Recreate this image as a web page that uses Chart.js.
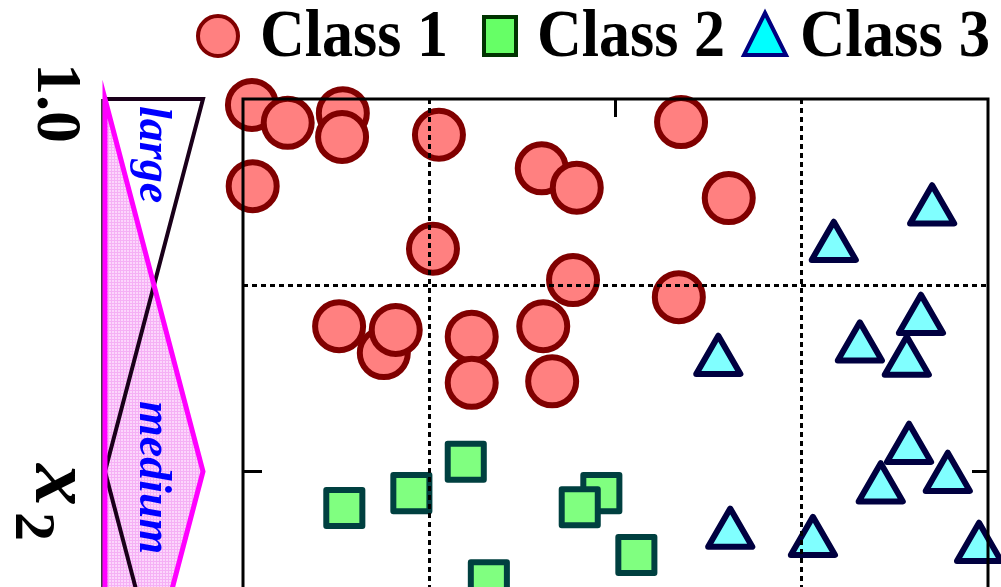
<!DOCTYPE html>
<html>
<head>
<meta charset="utf-8">
<script src="https://cdn.jsdelivr.net/npm/chart.js@4.4.1/dist/chart.umd.min.js"></script>
<style>
  html, body { margin: 0; padding: 0; background: #fff; overflow: hidden; }
  #wrap { width: 1001px; height: 870px; }
</style>
</head>
<body>
<div id="wrap"><canvas id="myChart" width="1001" height="870"></canvas></div>
<script>
(() => {
  "use strict";

  // class 1 - circles
  const class1X = [0.012, 0.060, 0.134, 0.133, 0.013, 0.263, 0.401, 0.448, 0.255, 0.443,
                   0.588, 0.652, 0.585, 0.129, 0.189, 0.205, 0.307, 0.307, 0.403, 0.415];
  const class1Y = [0.992, 0.968, 0.981, 0.949, 0.883, 0.952, 0.907, 0.881, 0.799, 0.757,
                   0.969, 0.867, 0.734, 0.695, 0.659, 0.690, 0.681, 0.619, 0.695, 0.621];
  // class 2 - squares
  const class2X = [0.299, 0.226, 0.136, 0.481, 0.452, 0.330, 0.528];
  const class2Y = [0.513, 0.471, 0.451, 0.471, 0.452, 0.354, 0.388];
  // class 3 - triangles
  const class3X = [0.793, 0.925, 0.910, 0.828, 0.891, 0.638, 0.894, 0.856, 0.946, 0.654, 0.765, 0.988];
  const class3Y = [0.801, 0.850, 0.703, 0.666, 0.647, 0.648, 0.530, 0.477, 0.491, 0.416, 0.405, 0.397];

  const classNames = ["Class 1", "Class 2", "Class 3"];
  const gridValues = [0.25, 0.75];
  const midTicks = [0.5];

  // membership functions along x2: [x2 value, degree]
  const mfLarge = [[1, 0], [1, 1], [0.5, 0]];
  const mfMedium = [[1, 0], [0.5, 1], [0, 0]];
  const mfSmall = [[0.5, 0], [0, 1]];
  const mfNames = ["large", "medium"];
  const degreeLabel = "1.0";

  const serif = '"Liberation Serif", "Times New Roman", serif';

  const toPoints = (xs, ys) => xs.map((x, i) => ({ x: x, y: ys[i] }));

  // pink mesh used in the "medium" area
  const pat = document.createElement("canvas");
  pat.width = 3; pat.height = 3;
  const pc = pat.getContext("2d");
  pc.fillStyle = "#fcd6fc";
  pc.fillRect(0, 0, 3, 3);
  pc.fillStyle = "#f5b0f5";
  pc.fillRect(0, 0, 3, 1);
  pc.fillRect(0, 0, 1, 3);

  const decorations = {
    id: "decorations",
    beforeDatasetsDraw(chart) {
      const { ctx, scales: { y } } = chart;
      const mx0 = 105, mw = 98;
      const px = (p) => [mx0 + p[1] * mw, y.getPixelForValue(p[0])];
      const path = (pts) => {
        ctx.beginPath();
        pts.forEach((p, i) => {
          const [a, b] = px(p);
          if (i === 0) ctx.moveTo(a, b); else ctx.lineTo(a, b);
        });
      };
      ctx.save();
      // medium area fill
      path(mfMedium); ctx.closePath();
      ctx.fillStyle = ctx.createPattern(pat, "repeat");
      ctx.fill();
      // axis of the membership panel
      ctx.strokeStyle = "#000";
      ctx.lineWidth = 1.5;
      ctx.beginPath();
      ctx.moveTo(102, y.getPixelForValue(1));
      ctx.lineTo(102, y.getPixelForValue(0));
      ctx.stroke();
      // black: large / small
      ctx.strokeStyle = "#1a001a";
      ctx.lineWidth = 4;
      ctx.lineJoin = "miter";
      path(mfLarge); ctx.stroke();
      path(mfSmall); ctx.stroke();
      // magenta: medium
      path(mfMedium); ctx.closePath();
      ctx.strokeStyle = "#ff00ff";
      ctx.lineWidth = 5;
      ctx.stroke();

      // rotated labels
      const rot = (text, x, yy, font, color) => {
        ctx.save();
        ctx.translate(x, yy);
        ctx.rotate(Math.PI / 2);
        ctx.font = font;
        ctx.fillStyle = color;
        ctx.textBaseline = "alphabetic";
        ctx.textAlign = "left";
        ctx.fillText(text, 0, 0);
        ctx.restore();
      };
      rot(mfNames[0], 140, 106, "italic bold 46px " + serif, "#0000ff");
      rot(mfNames[1], 140, 401, "italic bold 46px " + serif, "#0000ff");
      rot(degreeLabel, 38, 63, "bold 64px " + serif, "#000");
      rot("x", 36, 464, "italic bold 84px " + serif, "#000");
      rot("2", 16, 512, "bold 58px " + serif, "#000");
      ctx.restore();
      // softer corners on the markers
      ctx.lineJoin = "round";
    },
    afterDraw(chart) {
      const { ctx, chartArea: a, scales: { x, y } } = chart;
      ctx.save();
      ctx.lineJoin = "miter";
      ctx.strokeStyle = "#000";
      ctx.lineWidth = 3;
      ctx.strokeRect(a.left, a.top, a.right - a.left, a.bottom - a.top);
      ctx.beginPath();
      midTicks.forEach((v) => {
        const xp = x.getPixelForValue(v), yp = y.getPixelForValue(v);
        ctx.moveTo(xp, a.top); ctx.lineTo(xp, a.top + 18);
        ctx.moveTo(xp, a.bottom); ctx.lineTo(xp, a.bottom - 18);
        ctx.moveTo(a.left, yp); ctx.lineTo(a.left + 19, yp);
        ctx.moveTo(a.right, yp); ctx.lineTo(a.right - 16, yp);
      });
      ctx.stroke();

      // legend
      ctx.lineWidth = 4;
      ctx.fillStyle = "#ff8080"; ctx.strokeStyle = "#800000";
      ctx.beginPath(); ctx.arc(218, 36, 20, 0, Math.PI * 2); ctx.fill(); ctx.stroke();
      ctx.fillStyle = "#66ff66"; ctx.strokeStyle = "#003300";
      ctx.beginPath(); ctx.rect(484, 17, 32, 38); ctx.fill(); ctx.stroke();
      ctx.fillStyle = "#00ffff"; ctx.strokeStyle = "#000080";
      ctx.beginPath(); ctx.moveTo(765, 13); ctx.lineTo(786, 55); ctx.lineTo(744, 55); ctx.closePath();
      ctx.fill(); ctx.stroke();
      ctx.fillStyle = "#000";
      ctx.font = "bold 68px " + serif;
      ctx.textBaseline = "alphabetic";
      ctx.fillText(classNames[0], 260, 56, 188);
      ctx.fillText(classNames[1], 537, 56, 188);
      ctx.fillText(classNames[2], 800, 56, 190);
      ctx.restore();
    }
  };

  const ctx = document.getElementById("myChart");

  const axis = {
    type: "linear",
    min: 0,
    max: 1,
    ticks: { display: false, stepSize: 0.25 },
    grid: {
      z: 1,
      drawTicks: false,
      lineWidth: 3,
      color: (c) => (c.tick && gridValues.includes(c.tick.value) ? "#000" : "rgba(0,0,0,0)")
    },
    border: { display: false, dash: [5, 4] }
  };

  new Chart(ctx, {
    type: "scatter",
    data: {
      datasets: [
        {
          label: classNames[0],
          data: toPoints(class1X, class1Y),
          pointStyle: "circle",
          pointRadius: 24,
          pointBorderWidth: 6,
          backgroundColor: "#ff8080",
          borderColor: "#800000",
          clip: false
        },
        {
          label: classNames[1],
          data: toPoints(class2X, class2Y),
          pointStyle: "rect",
          pointRadius: 25.5,
          pointBorderWidth: 6,
          backgroundColor: "#80ff80",
          borderColor: "#004040",
          clip: false
        },
        {
          label: classNames[2],
          data: toPoints(class3X, class3Y),
          pointStyle: "triangle",
          pointRadius: 25.5,
          pointBorderWidth: 6,
          backgroundColor: "#80ffff",
          borderColor: "#000040",
          clip: false
        }
      ]
    },
    options: {
      responsive: false,
      animation: false,
      layout: { autoPadding: false, padding: { left: 243, top: 99, right: 13, bottom: 26 } },
      plugins: {
        legend: { display: false },
        tooltip: { enabled: false }
      },
      scales: { x: axis, y: axis }
    },
    plugins: [decorations]
  });
})();
</script>
</body>
</html>
